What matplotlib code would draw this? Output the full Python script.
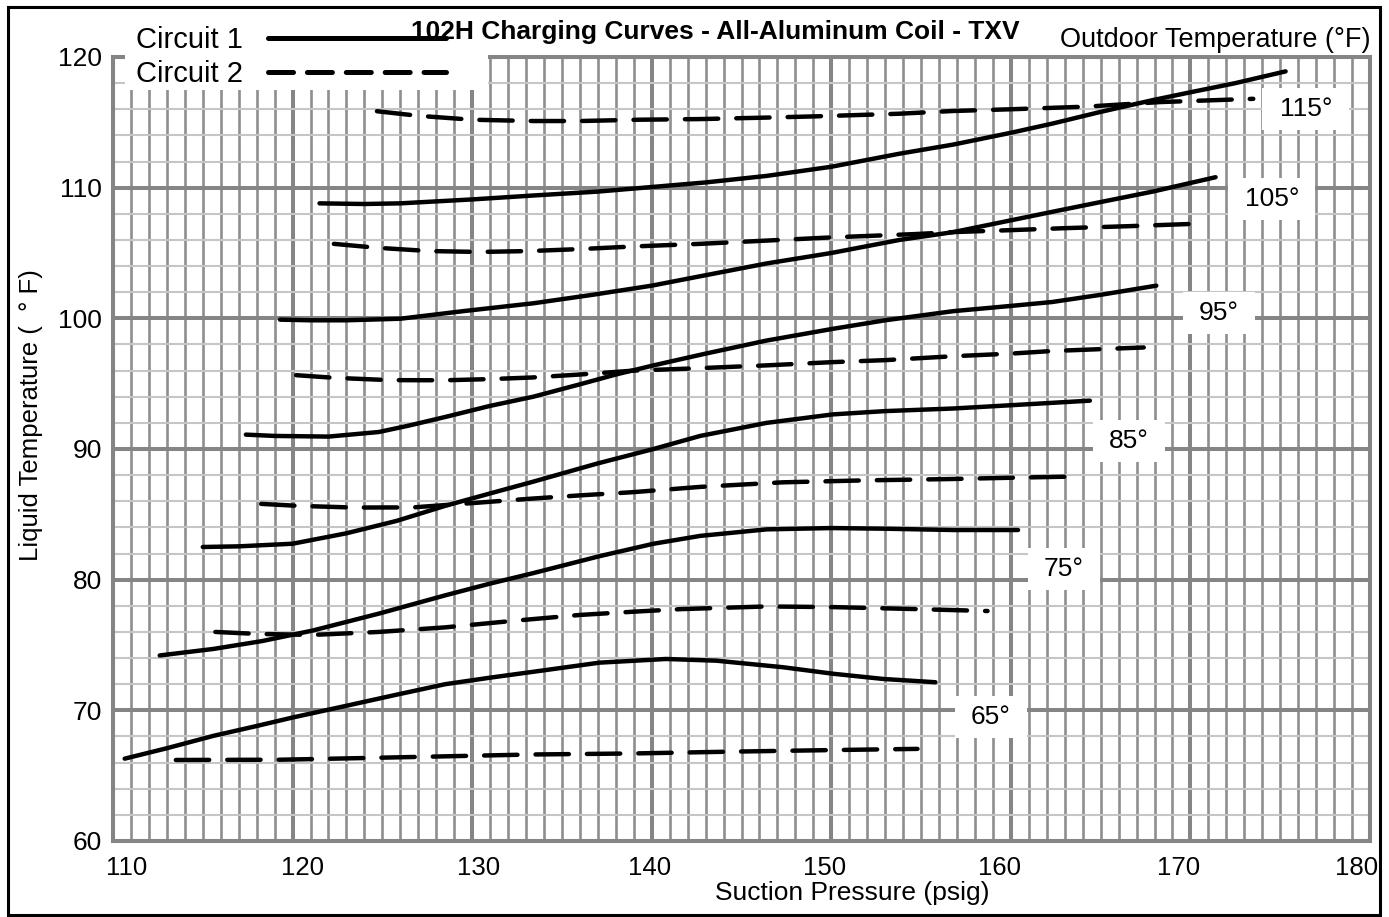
import matplotlib
matplotlib.use('Agg')
import matplotlib.pyplot as plt
from matplotlib.patches import Rectangle
from matplotlib.lines import Line2D
from matplotlib.transforms import ScaledTranslation

plt.rcParams['font.family'] = ['Liberation Sans', 'DejaVu Sans']
plt.rcParams['lines.scale_dashes'] = False

# ---------------- data ----------------
temp_labels = ['115°', '105°', '95°', '85°', '75°', '65°']

c1_115_x = [121.5, 124, 126, 130, 133.4, 137, 140, 143, 146.4, 150, 153.8, 156.8, 160, 162.3, 165, 167.9, 170, 172.5, 175.3]
c1_115_y = [108.8, 108.75, 108.8, 109.1, 109.4, 109.7, 110.05, 110.4, 110.9, 111.6, 112.6, 113.3, 114.2, 114.9, 115.8, 116.7, 117.3, 118.0, 118.9]
c2_115_x = [124.7, 127, 130, 133.4, 136, 139.3, 142.7, 146, 149.2, 153.8, 156.8, 160, 164.2, 168.3, 173.5]
c2_115_y = [115.85, 115.5, 115.2, 115.1, 115.1, 115.2, 115.25, 115.35, 115.46, 115.66, 115.87, 116.0, 116.2, 116.55, 116.8]

c1_105_x = [119.3, 121, 123, 126, 129.5, 133.4, 136.7, 140, 143, 146.4, 150, 153.8, 156.8, 160, 162.3, 165, 167.9, 171.4]
c1_105_y = [99.9, 99.85, 99.85, 99.97, 100.55, 101.15, 101.8, 102.5, 103.3, 104.2, 105.0, 106.0, 106.6, 107.5, 108.15, 108.9, 109.7, 110.8]
c2_105_x = [122.3, 124.7, 127.6, 130.4, 133.2, 136, 139, 142.7, 146.4, 150.1, 154.7, 156.8, 160, 163, 166.5, 170.6]
c2_105_y = [105.7, 105.4, 105.15, 105.08, 105.15, 105.3, 105.5, 105.7, 105.95, 106.2, 106.45, 106.6, 106.75, 106.9, 107.05, 107.25]

c1_95_x = [117.4, 119, 122, 124.8, 126.5, 128.5, 131, 133.4, 136, 138, 140.1, 143, 146.4, 150.1, 153, 156.8, 160, 162.3, 165, 168.1]
c1_95_y = [91.1, 91.0, 90.95, 91.3, 91.8, 92.45, 93.3, 94.0, 94.95, 95.7, 96.4, 97.3, 98.3, 99.2, 99.85, 100.55, 100.95, 101.25, 101.8, 102.5]
c2_95_x = [120.2, 122.3, 125.4, 128.5, 131, 133.3, 136, 139, 142, 146.4, 150.1, 153, 156.8, 160, 162.3, 167.4]
c2_95_y = [95.65, 95.45, 95.27, 95.26, 95.35, 95.47, 95.7, 96.0, 96.15, 96.4, 96.65, 96.8, 97.1, 97.3, 97.5, 97.77]

c1_85_x = [115.0, 117, 120, 123, 125.8, 128.5, 131, 133.4, 137, 140.1, 142.7, 146.4, 150.1, 153, 156.8, 160, 164.4]
c1_85_y = [82.5, 82.55, 82.75, 83.55, 84.5, 85.65, 86.6, 87.5, 88.9, 90.0, 91.0, 92.0, 92.65, 92.9, 93.1, 93.35, 93.7]
c2_85_x = [118.25, 120.3, 123.4, 126.7, 130.4, 133.3, 136, 139, 142.7, 147.3, 151.9, 156.6, 160, 163.8]
c2_85_y = [85.8, 85.65, 85.52, 85.53, 85.9, 86.2, 86.45, 86.7, 87.1, 87.45, 87.6, 87.7, 87.8, 87.9]

c1_75_x = [112.6, 115.6, 118.3, 121.1, 124.8, 128.5, 131, 133.4, 137.1, 140.1, 142.7, 146.4, 150, 153, 156.8, 160.4]
c1_75_y = [74.2, 74.7, 75.3, 76.1, 77.4, 78.8, 79.7, 80.5, 81.8, 82.75, 83.35, 83.85, 83.95, 83.9, 83.8, 83.8]
c2_75_x = [115.7, 118, 121.1, 124.8, 128.5, 132.3, 136, 139, 141.7, 146.4, 150.1, 154.7, 158.7]
c2_75_y = [76.0, 75.85, 75.77, 76.0, 76.35, 76.85, 77.3, 77.55, 77.75, 77.95, 77.9, 77.75, 77.6]

c1_65_x = [110.65, 113, 115.6, 118, 120, 123, 125.8, 128.5, 131, 133.4, 137.1, 140.8, 143.6, 147.3, 150.1, 152.9, 155.8]
c1_65_y = [66.3, 67.1, 68.05, 68.8, 69.45, 70.35, 71.2, 72.0, 72.5, 72.95, 73.65, 73.93, 73.8, 73.3, 72.8, 72.4, 72.15]
c2_65_x = [113.5, 119.3, 124.0, 128.5, 133.3, 139.0, 144.5, 150.1, 154.8]
c2_65_y = [66.2, 66.22, 66.35, 66.48, 66.62, 66.7, 66.84, 66.96, 67.05]

circuit1 = [(c1_115_x, c1_115_y), (c1_105_x, c1_105_y), (c1_95_x, c1_95_y),
            (c1_85_x, c1_85_y), (c1_75_x, c1_75_y), (c1_65_x, c1_65_y)]
circuit2 = [(c2_115_x, c2_115_y), (c2_105_x, c2_105_y), (c2_95_x, c2_95_y),
            (c2_85_x, c2_85_y), (c2_75_x, c2_75_y), (c2_65_x, c2_65_y)]

x_ticks = [110, 120, 130, 140, 150, 160, 170, 180]
y_ticks = [60, 70, 80, 90, 100, 110, 120]

# ---------------- layout ----------------
label_pos_x = [176.43, 174.53, 171.58, 166.57, 162.95, 158.89]
label_pos_y = [116.02, 109.14, 100.41, 90.62, 80.83, 69.5]
x_label_shift_px = [14, 10, 6, -2, -7, -11, -12, -13]

W, H = 1389, 917
fig = plt.figure(figsize=(W / 100, H / 100), dpi=100)
fig.patch.set_facecolor('white')

def fx(px):
    return px / W

def fy(py):
    return 1 - py / H

ax = fig.add_axes([fx(113), fy(841), (1370 - 113) / W, (841 - 57) / H])
ax.set_xlim(110, 180)
ax.set_ylim(60, 120)
ax.set_axisbelow(True)

ax.set_xticks(x_ticks)
ax.set_yticks(y_ticks)
ax.set_xticks([v for v in range(110, 181)], minor=True)
ax.set_yticks([v for v in range(60, 121, 2)], minor=True)
ax.tick_params(which='both', length=0)
ax.tick_params(axis='x', which='major', labelsize=18.5, pad=11)
ax.tick_params(axis='y', which='major', labelsize=19, pad=8)

for lab, dx in zip(ax.get_xticklabels(), x_label_shift_px):
    lab.set_transform(lab.get_transform() + ScaledTranslation(dx / 100, 0, fig.dpi_scale_trans))

ax.grid(which='minor', axis='y', color='#c6c6c6', lw=1.5)
ax.grid(which='minor', axis='x', color='#8e8e8e', lw=1.9)
ax.grid(which='major', axis='both', color='#858585', lw=2.9)
for s in ax.spines.values():
    s.set_color('#858585')
    s.set_linewidth(2.9)

lw = 3.2
for (xs, ys) in circuit1:
    ax.plot(xs, ys, color='black', lw=lw, solid_capstyle='round', zorder=4)
for (xs, ys) in circuit2:
    ax.plot(xs, ys, color='black', lw=lw, dashes=(24, 13), dash_capstyle='round', zorder=4)

# temperature labels with white boxes
for lab, lx, ly in zip(temp_labels, label_pos_x, label_pos_y):
    bw = 4.85 if len(lab) > 3 else 4.0
    bh = 3.2
    ax.add_patch(Rectangle((lx - bw / 2, ly - bh / 2), bw, bh, facecolor='white',
                           edgecolor='none', zorder=3))
    ax.text(lx, ly, lab, ha='center', va='center', fontsize=19, zorder=5)

# white area behind the legend (covers top frame too)
ax.add_patch(Rectangle((110.67, 117.47), 130.88 - 110.67, 2.8, facecolor='white',
                       edgecolor='none', zorder=2.7, clip_on=False))

# legend
h1 = Line2D([], [], color='black', lw=3.6, solid_capstyle='round')
h2 = Line2D([], [], color='black', lw=3.6, dashes=(18, 10), dash_capstyle='round')
leg = fig.legend([h1, h2], ['Circuit 1', 'Circuit 2'], loc='upper left',
                 bbox_to_anchor=(fx(136), fy(26)), frameon=False, markerfirst=False,
                 handlelength=6.1, handletextpad=0.85, labelspacing=0.2,
                 borderpad=0, borderaxespad=0, fontsize=21)

fig.text(fx(715), fy(32), '102H Charging Curves - All-Aluminum Coil - TXV',
         ha='center', va='center', fontsize=19, fontweight='bold')
fig.text(fx(1370), fy(40), 'Outdoor Temperature (°F)', ha='right', va='center', fontsize=19.5)
fig.text(fx(852), fy(893), 'Suction Pressure (psig)', ha='center', va='center', fontsize=19)
fig.text(fx(31), fy(415), 'Liquid Temperature (  ° F)', ha='center', va='center',
         rotation=90, fontsize=18.5)

# outer frame
fig.patches.append(Rectangle((fx(8), fy(915)), (1380 - 8) / W, (915 - 7) / H,
                             transform=fig.transFigure, fill=False, edgecolor='black',
                             lw=2.2))

fig.savefig('out.png', dpi=100, facecolor='white')
